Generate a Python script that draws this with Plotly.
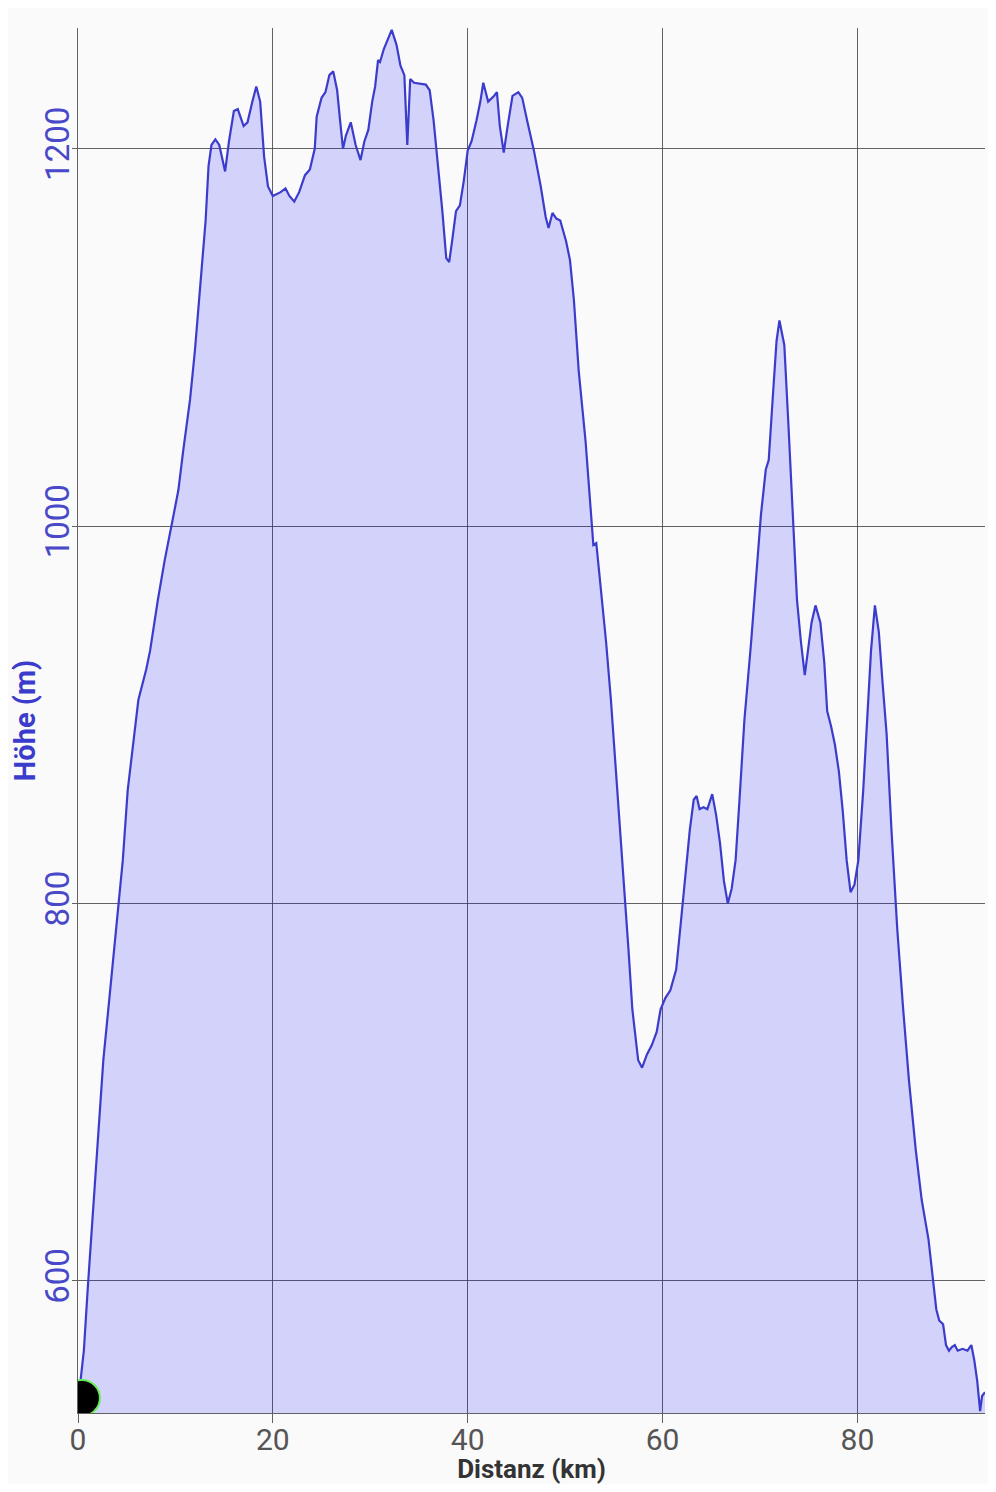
import plotly.graph_objects as go

# Elevation profile (distance in km, elevation in m)
dist_km = [0.0, 0.1, 0.6, 1.0, 1.4, 2.0, 2.6, 3.3, 4.0, 4.6, 5.1, 5.7, 6.2, 7.0, 7.4, 8.2, 8.9, 9.7,
           10.3, 10.8, 11.5, 12.0, 12.5, 13.1, 13.4, 13.7, 14.1, 14.5, 15.1, 15.5, 16.0, 16.4, 17.0,
           17.4, 17.9, 18.3, 18.7, 19.1, 19.5, 20.0, 20.8, 21.3, 21.7, 22.2, 22.7, 23.3, 23.8, 24.3,
           24.5, 25.0, 25.4, 25.8, 26.2, 26.6, 26.9, 27.2, 27.5, 28.0, 28.5, 29.0, 29.4, 29.8, 30.2,
           30.5, 30.8, 31.0, 31.4, 32.2, 32.7, 33.1, 33.5, 33.8, 34.1, 34.5, 35.7, 36.1, 36.5, 36.9,
           37.4, 37.8, 38.1, 38.4, 38.8, 39.2, 39.6, 40.0, 40.4, 40.9, 41.3, 41.6, 42.1, 42.7, 43.0,
           43.3, 43.7, 44.1, 44.6, 45.2, 45.6, 46.1, 46.8, 47.5, 48.0, 48.3, 48.7, 49.1, 49.5, 50.1,
           50.5, 50.9, 51.4, 52.1, 52.6, 52.9, 53.2, 53.6, 54.2, 54.7, 55.2, 55.7, 56.1, 56.5, 56.9,
           57.5, 57.9, 58.4, 58.9, 59.4, 59.8, 60.3, 60.8, 61.4, 61.9, 62.4, 62.8, 63.2, 63.5, 63.8,
           64.2, 64.6, 65.1, 65.5, 65.9, 66.3, 66.7, 67.1, 67.5, 67.9, 68.4, 69.1, 69.7, 70.1, 70.6,
           70.9, 71.3, 71.7, 72.0, 72.5, 72.9, 73.4, 73.8, 74.2, 74.6, 74.9, 75.3, 75.7, 76.2, 76.6,
           76.9, 77.3, 77.7, 78.1, 78.5, 78.9, 79.3, 79.7, 80.1, 80.6, 81.0, 81.4, 81.8, 82.2, 82.6,
           83.0, 83.5, 84.1, 84.7, 85.3, 86.0, 86.6, 87.3, 87.8, 88.1, 88.4, 88.8, 89.1, 89.4, 89.7,
           90.0, 90.3, 90.8, 91.3, 91.7, 92.0, 92.3, 92.6, 92.8, 93.1]
elev_m = [535, 540, 563, 596, 627, 675, 717, 754, 791, 823, 860, 887, 908, 924, 934, 961, 982, 1003,
          1019, 1040, 1067, 1093, 1125, 1162, 1191, 1202, 1205, 1202, 1188, 1204, 1220, 1221, 1212,
          1214, 1225, 1233, 1225, 1196, 1180, 1175, 1177, 1179, 1175, 1172, 1177, 1186, 1189, 1200,
          1217, 1227, 1230, 1239, 1241, 1231, 1215, 1200, 1207, 1214, 1202, 1194, 1204, 1210, 1225,
          1233, 1247, 1246, 1253, 1263, 1255, 1244, 1239, 1202, 1237, 1235, 1234, 1231, 1215, 1194,
          1167, 1142, 1140, 1151, 1167, 1170, 1183, 1199, 1204, 1215, 1225, 1235, 1225, 1228, 1230,
          1212, 1198, 1212, 1228, 1230, 1227, 1215, 1199, 1180, 1164, 1158, 1166, 1163, 1162, 1151,
          1141, 1120, 1082, 1045, 1008, 990, 991, 971, 939, 908, 871, 839, 807, 776, 744,
          717, 713, 720, 725, 732, 744, 750, 754, 765, 791, 818, 839, 855, 857, 850,
          851, 850, 858, 847, 832, 812, 800, 808, 823, 855, 897, 939, 982, 1006, 1030,
          1035, 1067, 1098, 1109, 1096, 1056, 1003, 961, 939, 921, 933, 949, 958, 949, 928,
          902, 894, 884, 870, 849, 823, 806, 810, 823, 860, 897, 934, 958, 944, 916,
          890, 839, 786, 744, 706, 669, 643, 622, 600, 585, 579, 577, 566, 563, 565,
          566, 563, 564, 563, 566, 558, 547, 531, 539, 541]

x_ticks = [0, 20, 40, 60, 80]
y_ticks = [600, 800, 1000, 1200]

marker_km = [0.4]
marker_m = [538]

FONT = "Roboto"
BLUE = "#3c3ccc"
GRID = "rgba(70,70,70,0.85)"

fig = go.Figure()
fig.add_trace(go.Scatter(
    x=dist_km, y=elev_m, mode="lines",
    line=dict(color=BLUE, width=2.2),
    fill="tozeroy", fillcolor="rgba(0,0,255,0.155)",
    hoverinfo="skip", showlegend=False,
))
fig.add_trace(go.Scatter(
    x=marker_km, y=marker_m, mode="markers",
    marker=dict(size=36, color="black", line=dict(color="#66ee55", width=2)),
    showlegend=False, cliponaxis=True,
))

fig.update_layout(
    width=980, height=1476,
    margin=dict(l=70, r=3, t=20, b=71, autoexpand=False),
    paper_bgcolor="#fafafa", plot_bgcolor="#fafafa",
    font=dict(family=FONT),
    xaxis=dict(
        range=[0, 93.1], tickvals=x_ticks, ticktext=[str(v) for v in x_ticks],
        showgrid=True, gridcolor=GRID, gridwidth=1, zeroline=False,
        showline=True, linecolor=GRID, linewidth=1,
        ticks="outside", ticklen=9, tickcolor=GRID, automargin=False,
        ticklabelstandoff=-9,
        tickfont=dict(family=FONT, size=30, color="#555555"),
        title=dict(text="<b>Distanz (km)</b>", font=dict(family=FONT, size=26, color="#333333"), standoff=0),
    ),
    yaxis=dict(
        range=[530, 1264], tickvals=y_ticks, ticktext=[str(v) for v in y_ticks],
        showgrid=True, gridcolor=GRID, gridwidth=1, zeroline=False,
        showline=True, linecolor=GRID, linewidth=1,
        ticks="outside", ticklen=5, tickcolor=GRID, automargin=False,
        tickangle=-90, ticklabelstandoff=-10,
        tickfont=dict(family=FONT, size=33, color="#4848c8"),
        title=dict(text="<b>Höhe (m)</b>", font=dict(family=FONT, size=29, color="#3c3ccc"), standoff=8),
    ),
)

fig.write_html("out.html")
